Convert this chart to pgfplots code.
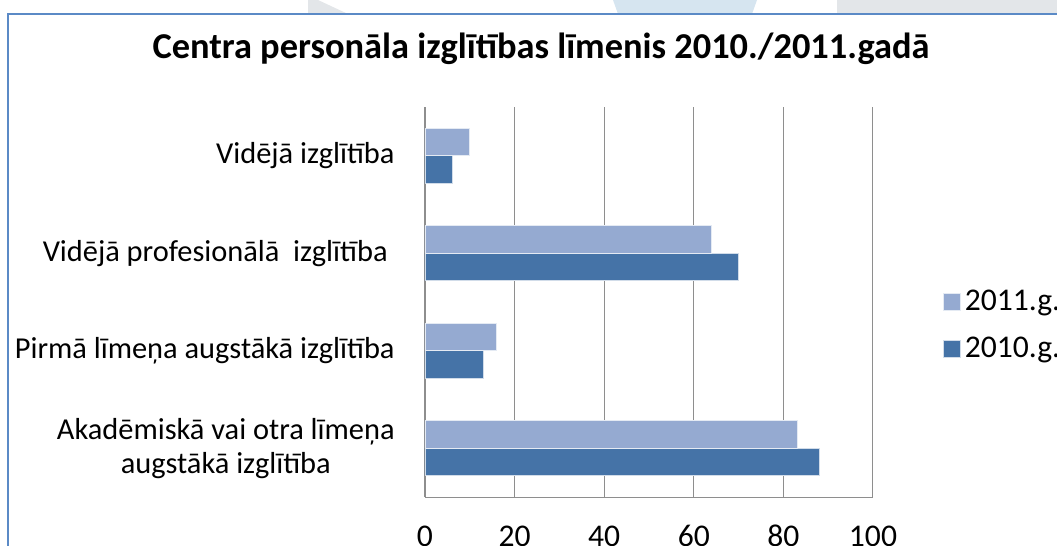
\documentclass[border=0pt]{standalone}
\usepackage{fontspec}
\setmainfont{Carlito}
\usepackage{pgfplots}
\pgfplotsset{compat=1.18}

\definecolor{darkbar}{HTML}{4573A7}
\definecolor{lightbar}{HTML}{95AAD1}
\definecolor{frameblue}{HTML}{5B8AC6}
\definecolor{gridgray}{HTML}{8E8E8E}
\definecolor{scrapgray}{HTML}{E3E6E9}
\definecolor{scrapblue}{HTML}{D6E5F0}

\begin{document}
\begin{tikzpicture}[x=0.5pt,y=0.5pt]
\useasboundingbox (0,0) rectangle (1057,546);
% scraps of the page behind the chart, above its frame
\fill[scrapgray] (308,546) -- (318,546) -- (348,532) -- (308,532) -- cycle;
\fill[scrapblue] (613,546) -- (757,546) -- (752,532) -- (618,532) -- cycle;
\fill[scrapgray] (837,546) rectangle (1060,532);
% chart frame
\draw[frameblue, line width=1pt] (1062,532) -- (7.5,532) -- (7.5,-5);
\node[font=\bfseries\fontsize{18.2}{21}\selectfont] at (541,497)
  {Centra personāla izglītības līmenis 2010./2011.gadā};

\begin{axis}[
    at={(212.5pt,24.5pt)}, anchor=south west,
    scale only axis, width=224pt, height=195pt,
    xmin=0, xmax=100, ymin=-0.5, ymax=3.5,
    xtick={0,20,40,60,80,100},
    ytick={0,1,2,3},
    yticklabels={{Akadēmiskā vai otra līmeņa\\augstākā izglītība},
                 {Pirmā līmeņa augstākā izglītība},
                 {Vidējā profesionālā\ \ izglītība\ },
                 {Vidējā izglītība}},
    axis x line*=bottom, axis y line*=left,
    axis line style={gridgray, -},
    xmajorgrids, grid style={gridgray, line width=0.5pt},
    major tick length=0pt,
    /pgf/number format/assume math mode=true,
    xticklabel style={font=\fontsize{15.8}{18}\selectfont, anchor=center, yshift=-19.5pt},
    yticklabel style={font=\fontsize{15.2}{17}\selectfont, align=center,
                      anchor=east, inner sep=0pt, xshift=-15pt},
    legend image code/.code={\fill[#1] (0pt,-4.25pt) rectangle (8.5pt,4.25pt);},
    reverse legend,
    legend cell align=left,
    legend style={at={(axis description cs:1.156,0.44)}, anchor=west,
                  draw=none, fill=none, inner sep=0pt, row sep=8pt,
                  font=\fontsize{15.8}{18}\selectfont},
  ]
\addplot[xbar, bar width=13.75pt, bar shift=-6.875pt, fill=darkbar,
         draw=white!75!darkbar, line width=0.3pt]
  coordinates {(88,0) (13,1) (70,2) (6,3)};
\addlegendentry{2010.g.}
\addplot[xbar, bar width=13.75pt, bar shift=6.875pt, fill=lightbar,
         draw=white!75!lightbar, line width=0.3pt]
  coordinates {(83,0) (16,1) (64,2) (10,3)};
\addlegendentry{2011.g.}
\end{axis}
\end{tikzpicture}
\end{document}
